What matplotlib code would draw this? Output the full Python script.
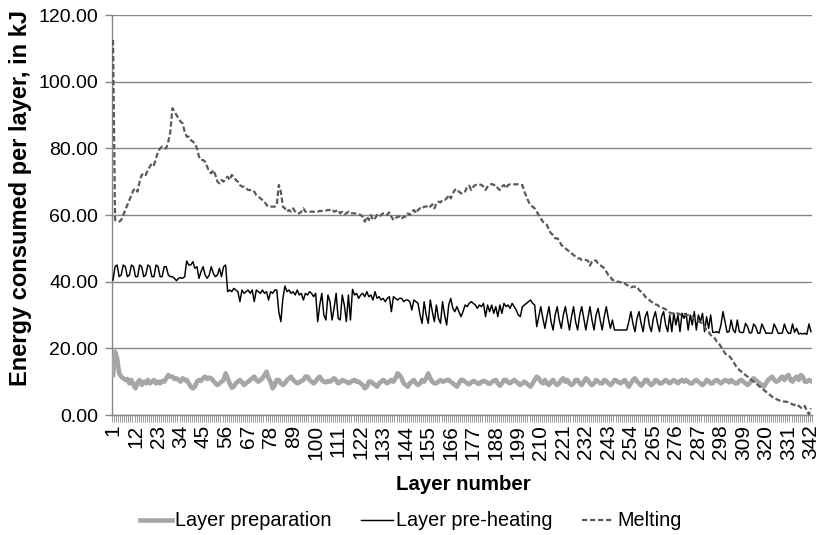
import matplotlib
matplotlib.use("Agg")
import matplotlib.pyplot as plt
from matplotlib.font_manager import FontProperties
import numpy as np

# ---------------- data ----------------
layers = list(range(1, 343))

preparation = [
    12, 19, 17, 12.5, 11.5, 11, 10.5, 10.8, 9.5, 10.5,
    9, 8, 9.8, 10.5, 9, 10, 9.5, 10.5, 9.5, 10,
    10.5, 9.5, 10, 9.5, 10.2, 10, 11, 12, 11.5, 11.5,
    10.8, 11, 10.5, 10, 11, 10.5, 10.5, 9.5, 8.5, 8,
    8.5, 10, 10.5, 10.2, 11, 11.5, 10.8, 11.2, 11, 10.2,
    9.5, 9, 9.5, 10, 10.5, 12.5, 11, 9.5, 8.2, 8.5,
    9.5, 10, 10.5, 9.8, 9, 9.5, 10, 10.5, 11, 11.5,
    10.5, 10, 10.5, 11, 12, 13, 11, 10, 8, 9,
    10.5, 10.5, 9.5, 9, 9.5, 10.5, 11, 11.5, 10.5, 10,
    9.5, 9.8, 10.2, 10.5, 11.5, 11.5, 10.5, 10, 9.5, 10,
    11, 11.5, 10.5, 10, 9.8, 10.2, 10, 10.5, 11, 10.5,
    9.5, 9.8, 10.5, 10.2, 10, 9.5, 9.8, 10.3, 10.5, 10,
    10, 9.5, 9, 8, 8.5, 10, 10, 9.5, 9, 8.5,
    9.5, 10, 10.5, 10, 9.5, 10, 10.5, 10, 11, 12.5,
    12, 11, 9.5, 9, 8.5, 9.5, 10, 10.5, 9.5, 9,
    9.5, 10.5, 10, 11, 12.5, 11, 10, 9.5, 9.5, 10,
    10.5, 10, 10.2, 10.5, 10.5, 10, 9.5, 9, 8.5, 9.5,
    10.5, 10.5, 10, 9.5, 9.2, 9.8, 10.2, 10, 9.5, 9.3,
    10, 10.2, 10, 9.6, 9.3, 9.8, 10.3, 10.5, 9.5, 8.8,
    9.5, 10.5, 10.5, 9.8, 9.5, 10, 10.5, 10, 9.5, 9,
    9.5, 10, 9.5, 9, 8.5, 9.5, 10.5, 11.5, 11, 10,
    9.5, 10.5, 9.5, 9, 10, 10.5, 9.5, 9, 9.5, 10.5,
    11, 10, 10.5, 9.5, 9, 9.5, 10.5, 10.5, 9.5, 9,
    10, 11, 10.5, 9.5, 9, 9.5, 10.5, 10, 9.5, 9.5,
    10.5, 10.2, 9.5, 9, 9.5, 10.5, 10.3, 9.8, 9.5, 10,
    10.5, 9.5, 8.5, 9.5, 10.5, 11, 10, 9.5, 8.8, 9.5,
    10.5, 10.5, 9.5, 9, 9.5, 10.5, 10.2, 9.5, 9.5, 10,
    10.5, 10, 9.5, 10, 10.5, 10, 9.5, 10.2, 10.5, 10,
    10.5, 10, 9.5, 9.5, 10.2, 10.5, 10, 9.5, 9, 9.5,
    10.5, 10.2, 9.5, 9.5, 10.3, 10.5, 10, 9.5, 10, 10.5,
    10.2, 9.8, 10.5, 10, 9.5, 9.5, 10.3, 10.5, 10, 9.5,
    9, 9.5, 10.5, 11, 10.5, 10, 9.5, 9, 8.5, 9.5,
    10.5, 11, 11.5, 10.5, 10, 10.2, 11, 11.5, 10.5, 11.5,
    12, 10.5, 10, 11, 11.5, 10.5, 12, 11.5, 10, 10,
    10.5, 10.2,
]

preheating = [
    40.5, 44.5, 45, 41.5, 42, 45, 44.5, 41.5, 42, 45,
    44.5, 41.5, 41.5, 45, 44.5, 41.5, 42, 45, 44.5, 41.5,
    41.5, 45, 44.5, 41.5, 41.5, 44.5, 44.5, 42, 41.5, 41.5,
    41, 40.3, 41, 41.2, 41, 41.5, 46.2, 45, 45, 46,
    44, 44.5, 41, 43, 44.5, 42, 41, 42, 44.5, 42.5,
    41.5, 42, 44, 41.5, 44.5, 45, 37, 37.5, 37, 38,
    37.5, 37, 34, 37.5, 36.5, 37, 37.5, 36.5, 37.5, 34,
    37.5, 37, 36.5, 37.5, 36.5, 37, 34.5, 37, 36.5, 37.5,
    37.5, 31, 28, 35, 38.7, 37, 37.5, 36.5, 37, 36,
    37.5, 36, 36.5, 34.5, 36.5, 36, 37, 36.5, 35.5, 36.5,
    28, 33, 36.5, 30, 28.5, 36, 34, 28.5, 32, 36.5,
    29, 28.5, 36, 33, 28, 36, 28.5, 37.7, 36, 36.5,
    35, 36, 36.5, 35.5, 37, 35.5, 36, 34.5, 37, 35,
    35.5, 34.5, 35, 34, 35, 35.5, 31, 35.5, 35, 34.5,
    35, 35, 34, 34.5, 34.5, 34, 31.5, 34.5, 34, 33.5,
    30, 27.5, 34, 30, 27.5, 34.5, 31, 28, 33, 29,
    27.5, 34, 30, 27, 33, 35, 32, 31, 32.5, 31,
    29.5, 31, 33, 32.5, 33.5, 34, 33.5, 33, 32, 33,
    32.5, 33.5, 29.5, 33, 31, 33, 30.5, 32.5, 29.5, 33,
    30.5, 33.5, 32.5, 33, 32, 33.5, 32.5, 31.5, 30, 29.5,
    32.5, 33, 33.5, 34, 34.5, 33.5, 33, 26.5, 29.5, 32.5,
    29, 26, 29.5, 32.5, 28, 25.5, 30, 32.5, 28.5, 26,
    30, 32.5, 29, 25.5, 29.5, 32.5, 28, 25.5, 30, 32.5,
    29, 25.5, 29, 32.5, 28.5, 25.5, 30, 32, 28.5, 25.5,
    29.5, 32.5, 29, 26, 28.5, 25.5, 25.5, 25.5, 25.5, 25.5,
    25.5, 25.5, 28, 31, 27.5, 25, 29, 31, 27.5, 25,
    29.5, 31, 27, 25, 29, 31, 27.5, 25, 29.5, 31,
    27, 25, 30, 25, 30.5, 27, 30, 25, 30.5, 29,
    30.5, 25.5, 30, 27, 31, 25.5, 30, 28, 30.5, 25,
    29.5, 26, 30, 24.8, 24.8, 25, 24.6, 27, 31, 28,
    24.8, 25, 28.5, 25.5, 24.7, 28.5, 25, 24.7, 24.8, 27.5,
    26.5, 24.6, 24.7, 27.3, 26.5, 24.6, 24.5, 27.3, 26, 24.5,
    24.6, 24.5, 24.5, 27.3, 26, 24.5, 24.5, 24.6, 27.3, 25.5,
    24.5, 24.5, 27.3, 24.8, 26, 24.3, 24.5, 24.3, 24.5, 24.2,
    27.3, 25,
]

melting = [
    112.5, 58.5, 58, 58, 58.5, 60, 61.5, 63, 64.5, 66,
    67.5, 68, 67, 70, 72, 72.5, 72, 73.5, 74.5, 75.5,
    75, 77, 79, 80, 80.5, 80, 80, 82, 85, 92,
    91, 90, 89, 88, 87.5, 85, 83.5, 83.5, 82.5, 82,
    81.5, 80, 77.5, 76.5, 76.5, 76, 74.5, 73, 72.5, 73.5,
    72, 70, 69.5, 70.5, 70, 71, 71.5, 70.5, 72, 71.5,
    70.5, 70, 69, 68.5, 68.5, 68, 67.5, 67.5, 67.5, 67,
    66, 65.5, 65, 64.5, 64, 63, 62.5, 62.5, 62.5, 62.5,
    63, 69, 67, 62.5, 62, 61, 61.5, 61, 62, 61,
    60.5, 60.5, 61, 62, 61, 61, 61, 61, 61, 61,
    61, 61.2, 61.2, 61.3, 61.3, 61.5, 61.5, 61.7, 61, 61.2,
    61.5, 60.5, 61, 60.3, 60.5, 61, 60.5, 60.5, 60.5, 60.3,
    60.2, 60, 59.5, 58, 59.5, 58.5, 60, 58.5, 59, 60,
    59.5, 60, 60.5, 60.5, 60, 60.8, 59.5, 58.5, 59, 59.5,
    59.5, 58.8, 59.5, 59.5, 60.5, 60, 61, 61.5, 60.5, 61.5,
    62, 61.8, 62.5, 62.5, 63, 62.5, 63.2, 62, 63.5, 64,
    63.8, 64.5, 64.5, 65, 66, 65, 66.5, 67.5, 67.8, 67,
    66.5, 66.5, 67, 68.5, 68.8, 67.5, 68.5, 69, 69, 69.2,
    69, 68.5, 67.5, 68.5, 69, 69.3, 69, 69, 68, 67.5,
    68.5, 69, 68, 69, 69.2, 69.2, 69.2, 69.2, 69.2, 69,
    69, 67, 65.5, 64, 63, 62.5, 62, 61, 60, 59,
    58, 57.5, 57, 55.5, 54.5, 54, 53, 53, 52.5, 51,
    50.5, 50, 49.5, 49, 48.5, 48, 47.5, 47, 47, 46.5,
    46.5, 46.5, 46.3, 44.8, 46, 46.5, 46.3, 45.5, 45, 44.5,
    44, 43, 42, 41.5, 40.5, 40.5, 40, 40, 39.8, 39.5,
    39.5, 39, 38.8, 38.3, 38.5, 38.5, 38.5, 37.5, 37, 36.5,
    35.5, 35, 34.5, 34, 33.5, 33.2, 33, 32.5, 32.3, 32,
    31.7, 31.2, 30.7, 30.5, 30.5, 30.3, 30.5, 30.2, 30, 30.3,
    30, 30, 29.8, 29.5, 29, 28.5, 28, 27.8, 27.5, 26.5,
    25.5, 25, 24, 23.5, 23, 22, 21.5, 20.5, 19.5, 18.5,
    18, 17.7, 17, 16, 15, 14.2, 13.5, 13, 12.5, 12,
    11.5, 11, 10.5, 10, 9.5, 9, 8.5, 8, 7.5, 7,
    6.5, 6, 5.5, 5, 4.8, 4.5, 4.3, 4.2, 4, 4,
    3.8, 3.5, 3.2, 3, 2.5, 2.8, 2.2, 2, 2.7, 1.2,
    0.2, 2,
]

series_names = ["Layer preparation", "Layer pre-heating", "Melting"]
y_ticks = [0, 20, 40, 60, 80, 100, 120]
x_label_layers = list(range(1, 343, 11))

assert len(preparation) == len(preheating) == len(melting) == len(layers)

# ---------------- fonts ----------------
regular = ["Liberation Sans", "DejaVu Sans"]
plt.rcParams["font.family"] = regular

grid_col = "#868686"

fig = plt.figure(figsize=(8.2, 5.35), dpi=100)
ax = fig.add_axes([112 / 820, 120 / 535, 700 / 820, 400 / 535])

ax.plot(layers, preparation, color="#a6a6a6", lw=3.3,
        solid_joinstyle="round", label=series_names[0], zorder=3)
ax.plot(layers, preheating, color="black", lw=1.05, label=series_names[1], zorder=4)
ax.plot(layers, melting, color="#5a5a5a", lw=1.6, dashes=(2.4, 1.2),
        label=series_names[2], zorder=5)

ax.set_xlim(0.5, 342.5)
ax.set_ylim(0, 120)

ax.set_yticks(y_ticks)
ax.set_yticklabels([f"{v:.2f}" for v in y_ticks],
                   fontproperties=FontProperties(family=regular, size=14))
ax.yaxis.grid(True, color=grid_col, lw=1.0)
ax.set_axisbelow(True)
ax.tick_params(axis="y", length=5, color=grid_col, width=1.0, pad=5)

ax.set_xticks(x_label_layers)
ax.set_xticklabels([str(v) for v in x_label_layers], rotation=90,
                   fontproperties=FontProperties(family=regular, size=15))
ax.tick_params(axis="x", which="major", length=0, pad=7)
ax.set_xticks(np.arange(0.5, 343, 1), minor=True)
ax.tick_params(axis="x", which="minor", length=5, color=grid_col, width=0.6)

for s in ["top", "right"]:
    ax.spines[s].set_visible(False)
for s in ["left", "bottom"]:
    ax.spines[s].set_color(grid_col)
    ax.spines[s].set_linewidth(1.0)

fig.text(463 / 820, 1 - 484 / 535, "Layer number", ha="center", va="center",
         fontproperties=FontProperties(family=regular, size=14.7, weight="bold"))
fig.text(21 / 820, 1 - 198 / 535, "Energy consumed per layer, in kJ",
         ha="center", va="center", rotation=90,
         fontproperties=FontProperties(family=regular, size=17, weight="bold"))

fig.legend(loc="center", bbox_to_anchor=(411 / 820, 1 - 521 / 535), ncol=3,
           frameon=False, handlelength=1.6, handletextpad=0.15,
           columnspacing=1.5,
           prop=FontProperties(family=regular, size=14.3))

fig.savefig("out.png", dpi=100)
